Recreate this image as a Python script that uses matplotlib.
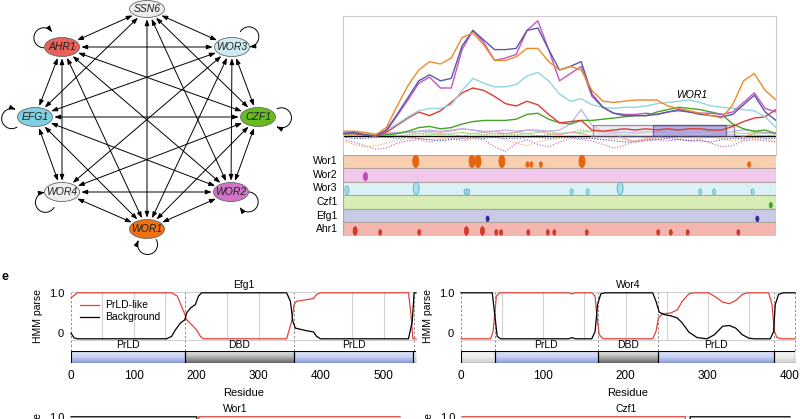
import numpy as np
import matplotlib
matplotlib.use("Agg")
import matplotlib.pyplot as plt
from matplotlib.patches import Ellipse, FancyArrowPatch, Rectangle
from matplotlib.path import Path
from matplotlib.colors import LinearSegmentedColormap

plt.rcParams["font.family"] = ["Liberation Sans", "DejaVu Sans"]
plt.rcParams["font.size"] = 7

# ---------------- data: regulatory network ----------------
genes = ["SSN6", "AHR1", "WOR3", "EFG1", "CZF1", "WOR4", "WOR2", "WOR1"]
gene_colors = ["#ececec", "#e8625b", "#cdebf2", "#7fd0e2", "#65bb1f",
               "#efefef", "#d273c9", "#f07113"]
links = [
    ("SSN6", "AHR1"), ("SSN6", "WOR3"), ("SSN6", "EFG1"), ("SSN6", "CZF1"),
    ("SSN6", "WOR2"), ("SSN6", "WOR1"),
    ("AHR1", "WOR3"), ("AHR1", "EFG1"), ("AHR1", "CZF1"), ("AHR1", "WOR4"),
    ("AHR1", "WOR2"), ("AHR1", "WOR1"),
    ("WOR3", "EFG1"), ("WOR3", "CZF1"), ("WOR3", "WOR4"), ("WOR3", "WOR2"),
    ("WOR3", "WOR1"),
    ("EFG1", "CZF1"), ("EFG1", "WOR4"), ("EFG1", "WOR2"), ("EFG1", "WOR1"),
    ("CZF1", "WOR4"), ("CZF1", "WOR2"), ("CZF1", "WOR1"),
    ("WOR4", "WOR2"), ("WOR4", "WOR1"), ("WOR2", "WOR1"),
]
self_regulated = ["AHR1", "WOR3", "EFG1", "CZF1", "WOR4", "WOR2", "WOR1"]

# ---------------- data: binding profile ----------------
pos = np.linspace(0, 1, 41)
prof_wor1 = [0.04, 0.04, 0.03, 0.01, 0.07, 0.25, 0.42, 0.55, 0.62, 0.60, 0.65, 0.82, 0.86, 0.76,
             0.63, 0.63, 0.66, 0.73, 0.73, 0.62, 0.55, 0.58, 0.55, 0.38, 0.29, 0.28, 0.29, 0.30,
             0.30, 0.30, 0.25, 0.23, 0.21, 0.19, 0.17, 0.15, 0.26, 0.46, 0.52, 0.38, 0.30]
prof_efg1 = [0.02, 0.03, 0.01, 0.00, 0.05, 0.18, 0.32, 0.46, 0.51, 0.46, 0.48, 0.75, 0.88, 0.80,
             0.72, 0.72, 0.73, 0.88, 0.90, 0.72, 0.55, 0.58, 0.62, 0.35, 0.24, 0.19, 0.17, 0.17,
             0.17, 0.18, 0.20, 0.22, 0.20, 0.18, 0.17, 0.16, 0.18, 0.26, 0.34, 0.20, 0.13]
prof_wor2 = [0.02, 0.03, 0.01, 0.00, 0.04, 0.17, 0.30, 0.44, 0.49, 0.40, 0.40, 0.72, 0.88, 0.78,
             0.63, 0.65, 0.68, 0.88, 0.96, 0.72, 0.46, 0.52, 0.58, 0.33, 0.24, 0.19, 0.18, 0.18,
             0.19, 0.18, 0.20, 0.21, 0.20, 0.19, 0.19, 0.18, 0.20, 0.28, 0.36, 0.23, 0.20]
prof_wor3 = [0.03, 0.03, 0.02, 0.01, 0.05, 0.10, 0.16, 0.21, 0.23, 0.23, 0.26, 0.38, 0.48, 0.44,
             0.41, 0.41, 0.43, 0.50, 0.53, 0.46, 0.35, 0.29, 0.31, 0.26, 0.24, 0.23, 0.24, 0.24,
             0.25, 0.27, 0.28, 0.29, 0.30, 0.28, 0.25, 0.24, 0.23, 0.22, 0.21, 0.16, 0.07]
prof_ahr1 = [0.02, 0.02, 0.01, 0.00, 0.03, 0.09, 0.15, 0.20, 0.17, 0.21, 0.28, 0.36, 0.40, 0.38,
             0.33, 0.27, 0.25, 0.29, 0.26, 0.18, 0.11, 0.12, 0.13, 0.05, 0.04, 0.05, 0.06, 0.05,
             0.06, 0.05, 0.06, 0.05, 0.06, 0.06, 0.05, 0.05, 0.08, 0.12, 0.15, 0.16, 0.22]
prof_czf1 = [0.02, 0.02, 0.01, 0.00, 0.01, 0.02, 0.04, 0.07, 0.08, 0.06, 0.07, 0.10, 0.12, 0.13,
             0.13, 0.13, 0.14, 0.18, 0.19, 0.14, 0.11, 0.10, 0.13, 0.13, 0.14, 0.15, 0.16, 0.17,
             0.17, 0.20, 0.22, 0.24, 0.23, 0.22, 0.20, 0.18, 0.10, 0.06, 0.04, 0.05, 0.02]
ctrl_purple = [0.03, 0.03, 0.02, 0.01, 0.02, 0.03, 0.03, 0.04, 0.05, 0.04, 0.05, 0.06, 0.05, 0.04,
               0.04, 0.05, 0.04, 0.05, 0.05, 0.04, 0.05, 0.10, 0.22, 0.09, 0.04, 0.03, 0.03, 0.03,
               0.04, 0.03, 0.03, 0.04, 0.03, 0.03, 0.04, 0.03, 0.04, 0.05, 0.04, 0.03, 0.03]
ctrl_pink = [0.03, 0.04, 0.02, 0.01, 0.02, 0.03, 0.03, 0.04, 0.04, 0.03, 0.04, 0.06, 0.05, 0.03,
             0.04, 0.02, 0.03, 0.05, 0.04, 0.02, 0.01, 0.03, 0.02, 0.00, 0.01, 0.02, -0.02, -0.05,
             -0.03, -0.01, 0.01, 0.02, 0.01, 0.00, 0.01, 0.02, 0.01, 0.00, 0.02, 0.03, 0.02]
ctrl_green = [0.01, 0.02, 0.03, 0.02, 0.01, 0.02, 0.03, 0.02, 0.03, 0.01, 0.02, 0.03, 0.02, 0.03,
              0.02, 0.02, 0.03, 0.02, 0.03, 0.04, 0.02, 0.03, 0.03, 0.04, 0.03, 0.04, 0.03, 0.02,
              0.03, 0.04, 0.05, 0.04, 0.03, 0.04, 0.05, 0.04, 0.03, 0.02, 0.03, 0.02, 0.02]
dot_magenta = [-0.03, -0.05, -0.08, -0.11, -0.10, -0.06, -0.04, -0.03, -0.05, -0.03, -0.02, -0.04,
               -0.02, -0.03, -0.09, -0.13, -0.06, -0.03, -0.07, -0.09, -0.05, -0.02, -0.03, -0.04,
               -0.07, -0.10, -0.08, -0.04, -0.03, -0.03, -0.04, -0.03, -0.04, -0.03, -0.06, -0.09,
               -0.08, -0.04, -0.03, -0.04, -0.05]
dot_orange = [-0.04, -0.07, -0.09, -0.08, -0.06, -0.04, -0.02, -0.02, -0.03, -0.02, -0.01, -0.02,
              -0.02, -0.01, -0.01, -0.03, -0.06, -0.08, -0.05, -0.03, -0.02, -0.01, -0.01, -0.02,
              -0.03, -0.02, -0.03, -0.04, -0.02, -0.02, -0.01, -0.02, -0.03, -0.02, -0.01, -0.02,
              -0.04, -0.03, -0.02, -0.03, -0.04]
dot_blue = [-0.01, -0.02, -0.02, -0.01, -0.01, -0.02, -0.01, -0.02, -0.03, -0.04, -0.03, -0.02,
            -0.01, -0.02, -0.01, -0.02, -0.02, -0.01, -0.01, -0.02, -0.01, -0.01, -0.02, -0.02,
            -0.03, -0.04, -0.05, -0.05, -0.04, -0.03, -0.02, -0.03, -0.04, -0.04, -0.05, -0.03,
            -0.02, -0.02, -0.01, -0.02, -0.02]
dot_green = [0.01, 0.00, 0.01, 0.02, 0.01, 0.00, 0.01, 0.02, 0.01, 0.02, 0.01, 0.00, 0.02, 0.01,
             0.02, 0.01, 0.01, 0.02, 0.00, 0.01, 0.02, 0.03, 0.05, 0.04, 0.03, 0.02, 0.01, 0.00,
             -0.01, 0.00, 0.01, 0.00, -0.01, 0.00, 0.01, 0.02, 0.01, 0.00, 0.01, 0.00, 0.01]
wor1_region = (0.578, 0.902)
wor1_core = (0.717, 0.885)

# motif tracks: position along locus and size class
track_names = ["Wor1", "Wor2", "Wor3", "Czf1", "Efg1", "Ahr1"]
track_colors = ["#f9cfb2", "#f0c8ec", "#dcf1f5", "#d8edb5", "#c9c9e8", "#f4b6ae"]
motif_colors = ["#e8650f", "#c24ab8", "#a8e0ea", "#3fa02a", "#2a2aa0", "#d23a28"]
motif_pos = [
    [0.168, 0.298, 0.312, 0.367, 0.426, 0.435, 0.457, 0.552, 0.938],
    [0.052],
    [0.009, 0.169, 0.283, 0.289, 0.528, 0.565, 0.640, 0.825, 0.857, 0.946],
    [0.988],
    [0.334, 0.957],
    [0.028, 0.086, 0.176, 0.285, 0.322, 0.354, 0.365, 0.428, 0.473, 0.488, 0.563,
     0.728, 0.757, 0.796, 0.913],
]
motif_size = [
    ["L", "L", "L", "L", "S", "S", "S", "L", "S"],
    ["M"],
    ["M", "L", "S", "S", "S", "S", "L", "S", "S", "S"],
    ["S"],
    ["S", "S"],
    ["M", "S", "S", "M", "M", "S", "S", "S", "S", "S", "S", "S", "S", "S", "S"],
]

# ---------------- data: HMM parses ----------------
efg1_res = [0, 10, 161, 170, 178, 182, 185, 193, 201, 207, 212, 345, 353, 357, 361, 377, 388,
            393, 399, 540, 544, 547, 552]
efg1_prld = [0.875, 1.0, 1.0, 0.92, 0.62, 0.475, 0.33, 0.21, 0.08, -0.08, -0.14, -0.14, 0.29,
             0.71, 0.79, 0.83, 0.86, 0.96, 1.0, 1.0, 0.46, -0.14, -0.14]
efg1_bg_res = [0, 5, 11, 153, 161, 167, 175, 182, 185, 191, 199, 204, 209, 345, 351, 355, 359,
               377, 388, 393, 399, 540, 546, 549, 552]
efg1_bg = [0.0, -0.12, -0.14, -0.14, -0.08, 0.08, 0.25, 0.33, 0.5, 0.62, 0.71, 0.92, 1.0, 1.0,
           0.79, 0.29, 0.125, 0.06, 0.03, -0.08, -0.14, -0.14, 0.29, 1.0, 1.0]

wor4_bg_res = [0, 38, 41, 44, 48, 131, 135, 139, 159, 163, 166, 170, 175, 233, 237, 241, 247,
               255, 263, 269, 277, 287, 299, 308, 318, 326, 334, 342, 350, 356, 376, 380, 382,
               386, 392, 406]
wor4_bg = [1.0, 1.0, 0.46, -0.08, -0.14, -0.14, -0.11, -0.14, -0.14, 0.04, 0.71, 0.975, 1.0,
           1.0, 0.79, 0.52, 0.46, 0.43, 0.375, 0.25, 0.025, -0.11, -0.14, -0.04, 0.17, 0.19,
           0.125, -0.04, -0.125, -0.14, -0.14, 0.04, 0.71, 0.96, 1.0, 1.0]
wor4_prld_res = [0, 36, 39, 41, 43, 47, 131, 135, 139, 159, 163, 165, 168, 173, 233, 237, 240,
                 245, 255, 263, 269, 277, 283, 301, 310, 318, 326, 334, 342, 348, 374, 378, 381,
                 384, 390, 406]
wor4_prld = [-0.14, -0.14, 0.04, 0.46, 0.92, 1.0, 1.0, 0.975, 1.0, 1.0, 0.92, 0.46, -0.04,
             -0.14, -0.14, 0.04, 0.375, 0.48, 0.5, 0.58, 0.79, 0.975, 1.0, 1.0, 0.89, 0.77,
             0.73, 0.81, 0.96, 1.0, 1.0, 0.71, 0.04, -0.11, -0.14, -0.14]

wor1_res = [0, 300, 305, 785]
wor1_prld = [-0.14, -0.14, 1.0, 1.0]
wor1_bg = [1.0, 1.0, -0.14, -0.14]
czf1_res = [0, 264, 270, 388]
czf1_prld = [1.0, 1.0, -0.14, -0.14]
czf1_bg = [-0.14, -0.14, 1.0, 1.0]

# domains: (start, end, kind, label)
efg1_domains = [(0, 182, "prld", "PrLD"), (182, 357, "dbd", "DBD"),
                (357, 547, "prld", "PrLD"), (547, 552, "none", "")]
wor4_domains = [(0, 41, "none", ""), (41, 166, "prld", "PrLD"), (166, 240, "dbd", "DBD"),
                (240, 380, "prld", "PrLD"), (380, 406, "none", "")]

# ---------------- figure ----------------
W, H = 800, 419
fig = plt.figure(figsize=(8, 4.19), dpi=100)


def px_axes(x0, y0, x1, y1):
    return fig.add_axes([x0 / W, 1 - y1 / H, (x1 - x0) / W, (y1 - y0) / H])


# network
ax = px_axes(0, 0, 300, 260)
ax.set_xlim(0, 300)
ax.set_ylim(260, 0)
ax.axis("off")
node_xy = {"SSN6": (147, 9), "AHR1": (62, 47), "WOR3": (232, 47), "EFG1": (35, 117),
           "CZF1": (258, 117), "WOR4": (62, 192), "WOR2": (231, 192), "WOR1": (147, 229)}
loop_dir = {"AHR1": 207, "WOR3": 329, "EFG1": 176, "CZF1": 2, "WOR4": 148, "WOR2": 30, "WOR1": 88}
ew, eh = 35, 19
nodes = {}
for name, col in zip(genes, gene_colors):
    e = Ellipse(node_xy[name], ew, eh if name != "SSN6" else 17, fc=col, ec="#666666",
                lw=0.6, zorder=3)
    ax.add_patch(e)
    nodes[name] = e
    ax.text(*node_xy[name], name, ha="center", va="center", style="italic",
            fontsize=7.5, color="#222222", zorder=4)

head = "<|-|>,head_length=0.6,head_width=0.22"
for a, b in links:
    ax.add_patch(FancyArrowPatch(node_xy[a], node_xy[b], arrowstyle=head, mutation_scale=6,
                                 patchA=nodes[a], patchB=nodes[b], shrinkA=1.5, shrinkB=1.5,
                                 lw=0.7, color="black", zorder=2))
r = 10
for name in self_regulated:
    cx, cy = node_xy[name]
    phi = np.deg2rad(loop_dir[name])
    c, s = np.cos(phi), np.sin(phi)
    rb = (ew / 2) * (eh / 2) / np.hypot(eh / 2 * c, ew / 2 * s)
    ox, oy = cx + c * (rb + 0.6 * r), cy + s * (rb + 0.6 * r)
    t = phi + np.pi + np.deg2rad(np.linspace(62, 298, 40))
    verts = np.column_stack([ox + r * np.cos(t), oy + r * np.sin(t)])
    ax.add_patch(FancyArrowPatch(path=Path(verts), arrowstyle="-|>,head_length=0.6,head_width=0.22",
                                 mutation_scale=6, lw=0.7, color="black", zorder=2))

# binding profile
axl = px_axes(343, 16, 776, 154.5)
axl.set_xlim(0, 1)
axl.set_ylim(-0.154, 1.0)
axl.set_xticks([])
axl.set_yticks([])
for side in ["left", "right", "top"]:
    axl.spines[side].set_color("#cccccc")
    axl.spines[side].set_linewidth(0.8)
axl.spines["bottom"].set_visible(False)

for vals, col in [(dot_magenta, "#c060c0"), (dot_orange, "#f0a050"), (dot_blue, "#4a58b0"),
                  (dot_green, "#5aa838")]:
    axl.plot(pos, vals, color=col, lw=0.8, ls=(0, (1, 1.5)))
axl.axhline(0, color="black", lw=1.0)
for vals, col in [(ctrl_green, "#a8d890"), (ctrl_pink, "#f4a0a8"), (ctrl_purple, "#b8a8e8")]:
    axl.plot(pos, vals, color=col, lw=0.8, solid_joinstyle="round")
axl.add_patch(Rectangle((wor1_region[0], 0), wor1_region[1] - wor1_region[0], 0.092,
                        fc="#dcdcec", alpha=0.6, ec="#505078", lw=0.9, zorder=3))
axl.add_patch(Rectangle((wor1_core[0], 0), wor1_core[1] - wor1_core[0], 0.092,
                        fc="#8f88d4", alpha=0.6, ec="#303060", lw=0.9, zorder=3))
for vals, col in [(prof_czf1, "#44a424"), (prof_ahr1, "#e03a34"), (prof_wor3, "#90d6e2"),
                  (prof_wor2, "#c455c4"), (prof_efg1, "#5a58a8"), (prof_wor1, "#f08a28")]:
    axl.plot(pos, vals, color=col, lw=1.0, zorder=4, solid_joinstyle="round")
axl.text(0.805, 0.34, "WOR1", style="italic", fontsize=7.5, ha="center", va="center", zorder=5)

# motif tracks
axt = px_axes(343, 154.5, 776, 236)
axt.set_xlim(0, 1)
axt.set_ylim(len(track_names), 0)
axt.set_xticks([])
axt.set_yticks([])
for side in axt.spines:
    axt.spines[side].set_visible(False)
sizes = {"L": (6, 12.5), "M": (4, 8.5), "S": (3, 5.5)}
row_px = (236 - 154.5) / len(track_names)
for i, (name, col) in enumerate(zip(track_names, track_colors)):
    axt.add_patch(Rectangle((0, i), 1, 1, fc=col, ec="#b4a49c", lw=0.8))
    axt.text(-0.012, i + 0.5, name, ha="right", va="center", fontsize=7.5, clip_on=False)
    for p, sz in zip(motif_pos[i], motif_size[i]):
        w, h = sizes[sz]
        wd, hd = w / 433, h / row_px
        cy = i + 0.5 if sz == "L" else i + 1 - 0.06 - hd / 2
        ec = "#5ab0c4" if name == "Wor3" else motif_colors[i]
        axt.add_patch(Ellipse((p, cy), wd, hd, fc=motif_colors[i], ec=ec, lw=0.6, zorder=3))

# ---------------- HMM panels ----------------
grads = {
    "prld": LinearSegmentedColormap.from_list("b", ["#e3e9f9", "#c9d3f2", "#8c9ddc"]),
    "dbd": LinearSegmentedColormap.from_list("g", ["#f4f4f4", "#b8b8b8", "#676767"]),
    "none": LinearSegmentedColormap.from_list("n", ["#fafafa", "#ececec", "#cfcfcf"]),
}
grad = np.linspace(0, 1, 30).reshape(-1, 1)


def hmm_panel(x0, x1, y0, title, length, pr_res, pr, bg_res, bg, grid=(), dashes=(),
              domains=None, legend=False, ticks=None):
    a = px_axes(x0, y0, x1, y0 + 48)
    a.set_xlim(0, length)
    a.set_ylim(-0.17, 1.02)
    for g in grid:
        a.axvline(g, color="#d2d2d2", lw=0.8, zorder=0)
    for d in dashes:
        a.axvline(d, ymin=-0.23, ymax=1, color="#8a8a8a", lw=0.7, ls=(0, (2.5, 2)),
                  clip_on=False, zorder=1)
    l1, = a.plot(pr_res, pr, color="#e0443c", lw=0.9, zorder=3, clip_on=False)
    l2, = a.plot(bg_res, bg, color="black", lw=0.9, zorder=3, clip_on=False)
    a.set_yticks([0, 1.0])
    a.set_yticklabels(["0", "1.0"])
    a.tick_params(axis="y", length=0, pad=5, labelsize=8)
    a.set_xticks([])
    for side in ["left", "right"]:
        a.spines[side].set_visible(False)
    for side in ["top", "bottom"]:
        a.spines[side].set_color("#d0d0d0")
        a.spines[side].set_linewidth(0.8)
    a.set_ylabel("HMM parse", fontsize=7.5, labelpad=4)
    a.set_title(title, fontsize=7.5, pad=3)
    if legend:
        a.legend([l1, l2], ["PrLD-like", "Background"], loc="upper left",
                 bbox_to_anchor=(0.026, 0.83), frameon=False, fontsize=7.5, borderpad=0,
                 borderaxespad=0, handlelength=1.8, handletextpad=0.6, labelspacing=0.2)
    if domains is None:
        return a
    b = px_axes(x0, y0 + 59, x1, y0 + 71)
    for s, e, kind, lab in domains:
        b.imshow(grad, extent=(s, e, 0, 1), aspect="auto", cmap=grads[kind], origin="upper",
                 zorder=1)
        b.add_patch(Rectangle((s, 0), e - s, 1, fc="none", ec="black", lw=0.8, zorder=2))
        if lab:
            b.text((s + e) / 2, 1.12, lab, ha="center", va="bottom", fontsize=7.5,
                   clip_on=False)
    b.set_xlim(0, length)
    b.set_ylim(0, 1)
    b.set_yticks([])
    b.set_xticks(ticks)
    b.tick_params(axis="x", length=0, pad=5, labelsize=8.5)
    for side in b.spines:
        b.spines[side].set_visible(False)
    b.set_xlabel("Residue", fontsize=8, labelpad=4)
    return a


hmm_panel(71, 416, 292, "Efg1", 552, efg1_res, efg1_prld, efg1_bg_res, efg1_bg,
          grid=[50, 100, 150, 250, 300, 450, 500], dashes=[0, 182, 357, 548],
          domains=efg1_domains, legend=True, ticks=[0, 100, 200, 300, 400, 500])
hmm_panel(461, 795, 292, "Wor4", 406, wor4_prld_res, wor4_prld, wor4_bg_res, wor4_bg,
          grid=[50, 100, 150, 200, 250, 300, 350], dashes=[0, 41, 166, 240, 380, 406],
          domains=wor4_domains, ticks=[0, 100, 200, 300, 400])
hmm_panel(71, 400, 416, "Wor1", 785, wor1_res, wor1_prld, wor1_res, wor1_bg)
hmm_panel(462, 790, 416, "Czf1", 388, czf1_res, czf1_prld, czf1_res, czf1_bg)

fig.text(2 / W, 1 - 277 / H, "e", fontsize=9, fontweight="bold", va="center", ha="left")

fig.savefig("out.png", dpi=100)
